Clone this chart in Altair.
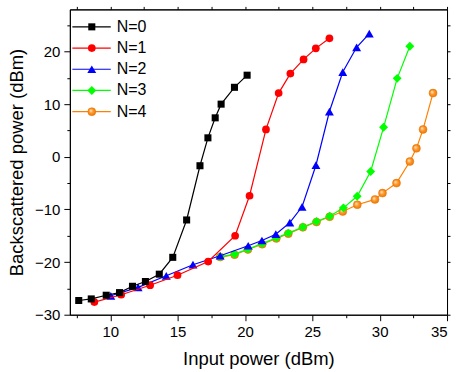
import altair as alt
import pandas as pd

series = ["N=0", "N=1", "N=2", "N=3", "N=4"]
colors = ["#000000", "#ff0000", "#0000ff", "#00ff00", "#ff8000"]
shapes = ["square", "circle", "triangle-up", "diamond", "circle"]
sizes = [50, 60, 80, 80, 64]

x0 = [7.66, 8.59, 9.70, 10.69, 11.65, 12.61, 13.64, 14.64, 15.67, 16.66, 17.25, 17.79, 18.23, 19.22, 20.16]
y0 = [-27.3, -27.0, -26.3, -25.8, -24.6, -23.7, -22.3, -19.1, -12.0, -1.7, 3.6, 7.4, 10.0, 13.2, 15.5]
x1 = [8.82, 10.81, 12.96, 14.99, 17.27, 19.27, 20.34, 21.56, 22.50, 23.37, 24.35, 25.26, 26.27]
y1 = [-27.6, -26.2, -24.4, -22.5, -19.9, -15.0, -7.4, 5.2, 12.1, 15.8, 18.5, 20.6, 22.5]
x2 = [10.04, 12.07, 14.16, 16.14, 18.16, 20.24, 21.26, 22.29, 23.33, 24.24, 25.27, 26.27, 27.26, 28.29, 29.23]
y2 = [-26.4, -24.8, -22.6, -20.5, -18.8, -16.9, -15.9, -14.7, -12.5, -9.5, -1.6, 8.6, 16.1, 20.8, 23.4]
x3 = [18.16, 19.23, 20.22, 21.28, 22.33, 23.22, 24.30, 25.31, 26.29, 27.31, 28.33, 29.33, 30.29, 31.30, 32.24]
y3 = [-19.0, -18.5, -17.55, -16.5, -15.4, -14.5, -13.35, -12.3, -11.3, -9.7, -7.5, -2.8, 5.6, 14.9, 21.0]
x4 = [18.16, 19.23, 20.22, 21.28, 22.33, 23.22, 24.30, 25.31, 26.29, 27.26, 28.34, 29.65, 30.21, 31.25, 32.24, 32.73, 33.22, 33.96]
y4 = [-19.05, -18.6, -17.6, -16.6, -15.5, -14.6, -13.4, -12.4, -11.4, -10.4, -9.1, -8.1, -6.9, -5.0, -0.9, 1.6, 5.2, 12.1]

x_ticks = [7.5, 10, 12.5, 15, 17.5, 20, 22.5, 25, 27.5, 30, 32.5, 35]
y_ticks = [-30, -25, -20, -15, -10, -5, 0, 5, 10, 15, 20, 25]

rows = []
for name, xs, ys in zip(series, [x0, x1, x2, x3, x4], [y0, y1, y2, y3, y4]):
    for a, b in zip(xs, ys):
        rows.append({"series": name, "x": a, "y": b})
df = pd.DataFrame(rows)
leg_df = pd.DataFrame({"series": series})

FONT = "Liberation Sans"
xscale = alt.Scale(domain=[7, 35], nice=False, zero=False)
yscale = alt.Scale(domain=[-30, 28], nice=False, zero=False)

x_axis = alt.Axis(
    values=x_ticks,
    tickSize={"condition": {"test": "datum.value % 5 === 0", "value": 6}, "value": 3},
    labelExpr="datum.value % 5 === 0 ? datum.label : ''",
    labelPadding=4, grid=False, title="Input power (dBm)", titlePadding=10,
)
y_axis = alt.Axis(
    values=y_ticks,
    tickSize={"condition": {"test": "datum.value % 10 === 0", "value": 6}, "value": 3},
    labelExpr="datum.value % 10 === 0 ? datum.label : ''",
    labelPadding=4, grid=False, title="Backscattered power (dBm)", titlePadding=8,
)

X = alt.X("x:Q", scale=xscale, axis=x_axis)
Y = alt.Y("y:Q", scale=yscale, axis=y_axis)

grad = alt.Gradient(
    gradient="radial", x1=0.35, y1=0.35, r1=0.0, x2=0.5, y2=0.5, r2=0.55,
    stops=[alt.GradientStop(color="#fff2e0", offset=0.0),
           alt.GradientStop(color="#ff9a30", offset=0.45),
           alt.GradientStop(color="#e87400", offset=1.0)],
)

def point_mark(i):
    if series[i] == "N=4":
        return dict(shape="circle", filled=True, fill=grad, opacity=1, size=sizes[i],
                    stroke="#e87400", strokeWidth=0.5)
    return dict(shape=shapes[i], filled=True, opacity=1, size=sizes[i], color=colors[i])

base = alt.Chart(df)
layers = []
for i in reversed(range(len(series))):
    sel = base.transform_filter(alt.datum.series == series[i])
    layers.append(sel.mark_line(strokeWidth=1.2, color=colors[i]).encode(x=X, y=Y))
    layers.append(sel.mark_point(**point_mark(i)).encode(x=X, y=Y))
main = alt.layer(*layers)

mirror = base.mark_point(opacity=0).encode(
    x=alt.X("x:Q", scale=xscale, axis=alt.Axis(orient="top", values=x_ticks, labels=False, tickSize=3, grid=False, title=None)),
    y=alt.Y("y:Q", scale=yscale, axis=alt.Axis(orient="right", values=y_ticks, labels=False, tickSize=3, grid=False, title=None)),
)

yleg = alt.Y("series:N", scale=alt.Scale(type="point", domain=series, range=[17.5, 102.5], padding=0), axis=None)
legb = alt.Chart(leg_df)
leg_layers = []
for i in range(len(series)):
    one = legb.transform_filter(alt.datum.series == series[i])
    leg_layers.append(one.mark_rule(strokeWidth=1.2, color=colors[i]).encode(
        x=alt.value(2.5), x2=alt.value(41), y=yleg))
    leg_layers.append(one.mark_point(**point_mark(i)).encode(x=alt.value(22), y=yleg))
leg_layers.append(legb.mark_text(align="left", baseline="middle", fontSize=16, font=FONT, color="black").encode(
    x=alt.value(47), y=yleg, text="series:N"
))
legend = alt.layer(*leg_layers)

chart = alt.layer(main, mirror, legend).resolve_axis(
    x="independent", y="independent"
).resolve_scale(y="independent").properties(
    width=378, height=306,
    padding={"left": 7, "top": 5, "right": 5, "bottom": 3},
).configure_view(stroke="black", strokeWidth=1).configure_axis(
    domainColor="black", tickColor="black", labelColor="black", titleColor="black",
    labelFont=FONT, titleFont=FONT, labelFontSize=15, titleFontSize=18.5,
    titleFontWeight="normal", domainWidth=1, tickWidth=1,
)

chart.save("out.html", embed_options={"renderer": "svg", "actions": False})
